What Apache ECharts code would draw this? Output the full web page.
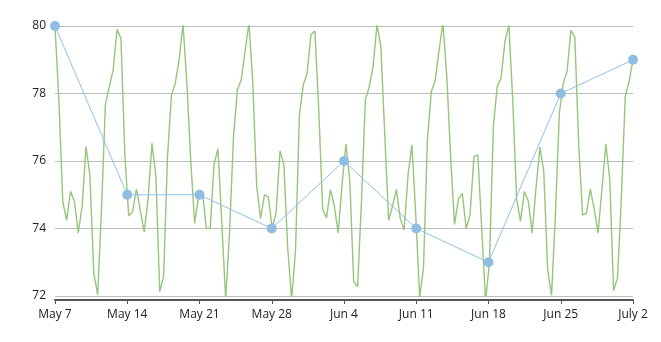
<!DOCTYPE html>
<html><head><meta charset="utf-8">
<script src="https://cdn.jsdelivr.net/npm/echarts@6/dist/echarts.min.js"></script>
<style>html,body{margin:0;padding:0;background:#fff}#c{width:661px;height:342px}</style>
</head><body><div id="c"></div>
<script>
const weekLabels = ["May 7","May 14","May 21","May 28","Jun 4","Jun 11","Jun 18","Jun 25","July 2"];
const weeklyValues = [80,75,75,74,76,74,73,78,79];
const detailValues = [
80.0,77.8,74.8,74.24,75.1,74.8,73.87,74.67,76.43,75.57,72.68,72.03,74.6,77.7,78.2,78.7,79.9,
79.63,76.2,74.37,74.5,75.17,74.52,73.9,74.87,76.53,75.57,72.13,72.58,76.12,77.94,78.3,79.0,80.07,
78.3,76.0,74.15,74.95,75.1,74.0,74.0,75.9,76.36,74.17,71.9,73.87,76.7,78.1,78.4,79.25,80.1,
78.3,75.25,74.3,75.0,74.93,74.0,74.48,76.3,75.9,73.4,71.9,73.35,77.35,78.25,78.6,79.75,79.85,
77.5,74.57,74.32,75.15,74.67,73.87,75.3,76.5,75.4,72.43,72.27,74.8,77.8,78.2,78.8,80.03,
79.4,76.8,74.24,74.66,75.16,74.3,73.96,75.58,76.48,74.4,71.96,72.85,76.62,78.05,78.38,79.27,80.1,
78.5,76.1,74.12,74.88,75.04,74.0,74.4,76.13,76.18,74.0,71.85,73.0,77.0,78.22,78.46,79.55,80.03,
77.8,74.87,74.22,75.09,74.82,73.87,75.2,76.41,75.7,72.78,72.02,74.4,77.4,78.3,78.65,79.87,
79.67,76.5,74.4,74.45,75.17,74.57,73.87,75.17,76.51,75.47,72.16,72.53,74.9,77.91,78.36,79.0
];
const yMin = 72, yMax = 80, yStep = 2;
const detailIndex = detailValues.map((_, i) => String(i));

const font = "'Open Sans', 'Noto Sans', sans-serif";
const chart = echarts.init(document.getElementById('c'), null, {renderer: 'canvas'});
chart.setOption({
  animation: false,
  backgroundColor: '#fff',
  grid: {left: 55, right: 28, top: 26, bottom: 46},
  xAxis: [{
    type: 'category', data: weekLabels, boundaryGap: false, offset: 4,
    axisLine: {show: true, lineStyle: {color: '#555', width: 2}},
    axisTick: {show: true, length: 4, lineStyle: {color: '#555'}},
    axisLabel: {color: '#222', fontSize: 12, fontFamily: font, margin: 9},
    splitLine: {show: false}
  }, {
    type: 'category', data: detailIndex, boundaryGap: false, show: false
  }],
  yAxis: {
    type: 'value', min: yMin, max: yMax, interval: yStep,
    axisLine: {show: false}, axisTick: {show: false},
    axisLabel: {color: '#222', fontSize: 12, fontFamily: font, margin: 9},
    splitLine: {lineStyle: {color: '#bdbdbd', width: 1}}
  },
  series: [{
    type: 'line', xAxisIndex: 1, data: detailValues, showSymbol: false, symbol: 'none',
    lineStyle: {color: '#95c67c', width: 1.4}, z: 2
  }, {
    type: 'line', xAxisIndex: 0, data: weeklyValues, symbol: 'circle', symbolSize: 10,
    lineStyle: {color: '#8fc0e8', width: 1}, itemStyle: {color: '#8fbde3'}, z: 3
  }]
});
</script></body></html>
